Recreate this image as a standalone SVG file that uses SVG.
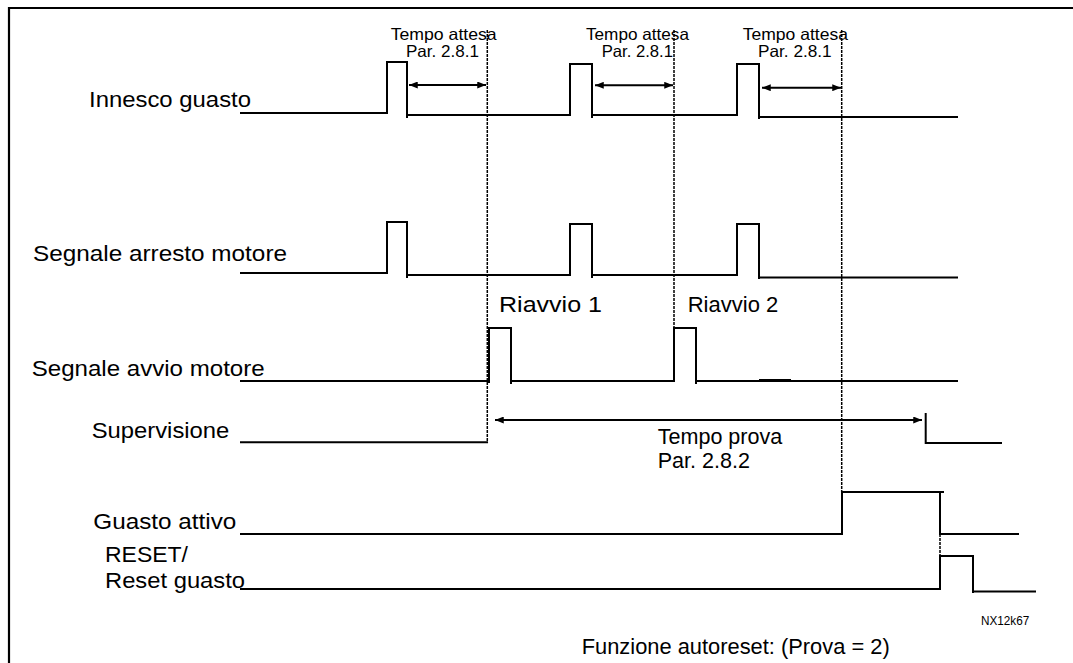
<svg xmlns="http://www.w3.org/2000/svg" width="1073" height="663" viewBox="0 0 1073 663">
<style>
.sig{fill:none;stroke:#000;stroke-width:2;stroke-linejoin:miter;stroke-linecap:square}
.dash{fill:none;stroke:#000;stroke-width:1.5;stroke-dasharray:3,1}
.arr{fill:none;stroke:#000;stroke-width:2}
.lab{font-family:"Liberation Sans",Arial,sans-serif;font-size:22px;fill:#000}
.sm{font-family:"Liberation Sans",Arial,sans-serif;font-size:16.5px;fill:#000}
.tiny{font-family:"Liberation Sans",Arial,sans-serif;font-size:12px;fill:#000}
</style>
<defs>
<marker id="ah" viewBox="0 0 10 8" refX="10" refY="4" markerWidth="9" markerHeight="7" markerUnits="userSpaceOnUse" orient="auto-start-reverse">
<path d="M0,0 L10,4 L0,8 Z" fill="#000"/>
</marker>
</defs>
<rect width="1073" height="663" fill="#fff"/>
<g id="frame">
<path d="M9,663 V8 H1073" fill="none" stroke="#000" stroke-width="2.2"/>
</g>
<g id="innesco">
<text class="lab" x="89" y="107" textLength="162" lengthAdjust="spacingAndGlyphs">Innesco guasto</text>
<path class="sig" d="M241,113 H387 V62 H407 V117"/>
<path class="sig" d="M408,115 H570 V64 H592 V117"/>
<path class="sig" d="M593,115 H737 V64 H759 V118"/>
<path class="sig" d="M760,117 H957"/>
<text class="sm" x="390.7" y="40" textLength="106" lengthAdjust="spacingAndGlyphs">Tempo attesa</text>
<text class="sm" x="406" y="57" textLength="73" lengthAdjust="spacingAndGlyphs">Par. 2.8.1</text>
<text class="sm" x="586" y="40" textLength="103" lengthAdjust="spacingAndGlyphs">Tempo attesa</text>
<text class="sm" x="601.7" y="57" textLength="71.3" lengthAdjust="spacingAndGlyphs">Par. 2.8.1</text>
<text class="sm" x="742.7" y="40" textLength="105.3" lengthAdjust="spacingAndGlyphs">Tempo attesa</text>
<text class="sm" x="758" y="57" textLength="73.7" lengthAdjust="spacingAndGlyphs">Par. 2.8.1</text>
</g>
<g id="arresto">
<text class="lab" x="33" y="261" textLength="254" lengthAdjust="spacingAndGlyphs">Segnale arresto motore</text>
<path class="sig" d="M241,273 H387 V222 H407 V277"/>
<path class="sig" d="M408,275 H570 V224 H592 V277"/>
<path class="sig" d="M593,275 H737 V224 H759 V278"/>
<path class="sig" d="M760,277.5 H957"/>
</g>
<g id="avvio">
<text class="lab" x="31.7" y="375.5" textLength="233" lengthAdjust="spacingAndGlyphs">Segnale avvio motore</text>
<text class="lab" x="499" y="311.7" textLength="103" lengthAdjust="spacingAndGlyphs">Riavvio 1</text>
<text class="lab" x="687.7" y="311.7" textLength="90.6" lengthAdjust="spacingAndGlyphs">Riavvio 2</text>
<path class="sig" d="M241,381 H488"/>
<path class="sig" d="M489,382 V328 H511 V383"/>
<path class="sig" d="M512,381 H674 V328 H696 V383"/>
<path class="sig" d="M697,381 H957"/>
<path d="M759,380.5 H791" stroke="#000" stroke-width="3"/>
</g>
<g id="supervisione">
<text class="lab" x="91.7" y="438" textLength="137.6" lengthAdjust="spacingAndGlyphs">Supervisione</text>
<path class="sig" d="M241,442.3 H487"/>
<path class="sig" d="M925.7,414 V443 H1001"/>
<text class="lab" x="657.7" y="444" font-size="21" textLength="124.6" lengthAdjust="spacingAndGlyphs">Tempo prova</text>
<text class="lab" x="657.7" y="467.5" font-size="21" textLength="92.3" lengthAdjust="spacingAndGlyphs">Par. 2.8.2</text>
</g>
<g id="guasto-attivo">
<text class="lab" x="93.3" y="529.3" textLength="143" lengthAdjust="spacingAndGlyphs">Guasto attivo</text>
<path class="sig" d="M241,534 H842 V492 H943"/>
<path class="sig" d="M940,492 V534"/>
<path class="sig" d="M941,534 H1018"/>
</g>
<g id="reset">
<text class="lab" x="105" y="562.3" textLength="83" lengthAdjust="spacingAndGlyphs">RESET/</text>
<text class="lab" x="105" y="588" textLength="140" lengthAdjust="spacingAndGlyphs">Reset guasto</text>
<path class="sig" d="M241,589 H940 V556 H973 V592"/>
<path class="sig" d="M974,591.5 H1035"/>
</g>
<g id="connectors">
<path class="dash" d="M487.3,30 V443"/>
<path class="dash" d="M674,30 V381"/>
<path class="dash" d="M841.7,30 V492"/>
<path class="dash" d="M940,534 V556"/>
<path class="arr" d="M409,85 H486" marker-start="url(#ah)" marker-end="url(#ah)"/>
<path class="arr" d="M595,85.3 H673" marker-start="url(#ah)" marker-end="url(#ah)"/>
<path class="arr" d="M762,87.7 H841" marker-start="url(#ah)" marker-end="url(#ah)"/>
<path class="arr" d="M495,420 H922" stroke-width="1.6" marker-start="url(#ah)" marker-end="url(#ah)"/>
</g>
<g id="notes">
<text class="tiny" x="981" y="625" textLength="48.3" lengthAdjust="spacingAndGlyphs">NX12k67</text>
<text class="lab" x="581.7" y="654" font-size="20" textLength="308" lengthAdjust="spacingAndGlyphs">Funzione autoreset: (Prova = 2)</text>
</g>
</svg>
